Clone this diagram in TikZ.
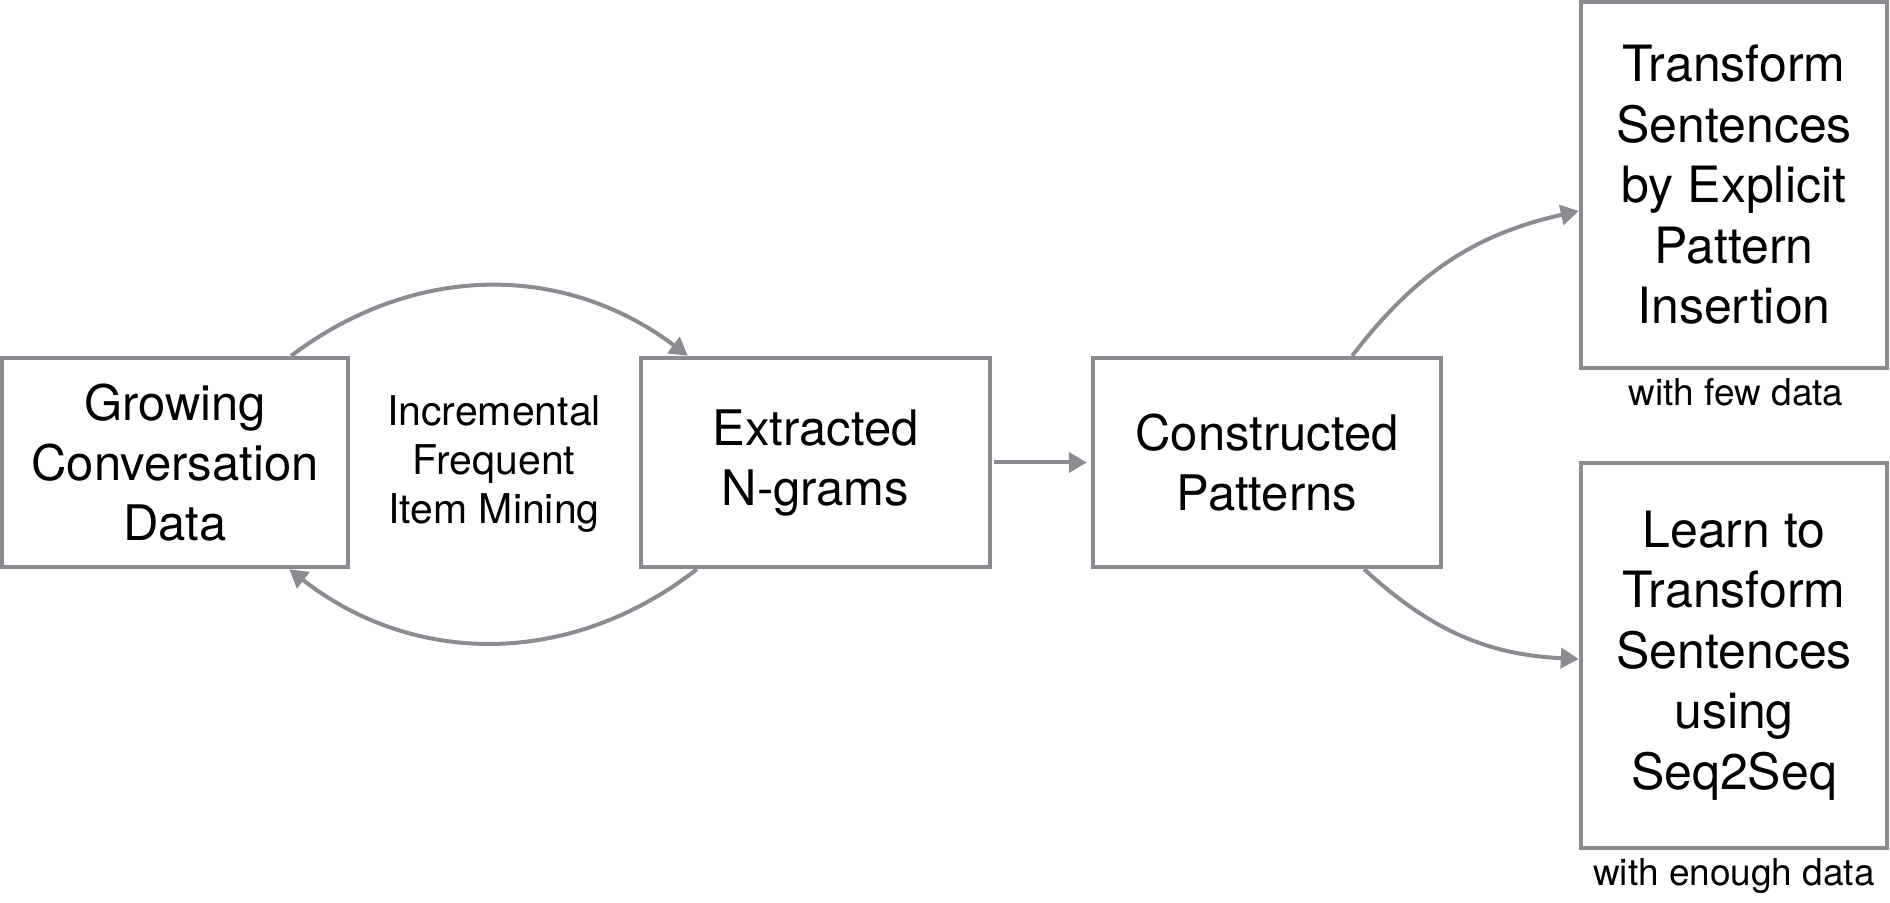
\documentclass[tikz,border=0pt]{standalone}
\usepackage{fontspec}
\setmainfont{TeX Gyre Heros}
\usetikzlibrary{arrows.meta}
\definecolor{lineg}{RGB}{138,140,146}
\begin{document}
\begin{tikzpicture}[x=0.5pt,y=-0.5pt,
  box/.style={draw=lineg, line width=2.2pt, inner sep=0pt, align=center, fill=white},
  bigtxt/.style={font=\fontsize{24.5}{30}\selectfont},
  rtxt/.style={font=\fontsize{25}{30.25}\selectfont},
  midtxt/.style={font=\fontsize{20.5}{24.5}\selectfont, align=center},
  smalltxt/.style={font=\fontsize{18.5}{22}\selectfont, anchor=base},
  conn/.style={draw=lineg, line width=2pt, -{Triangle[length=9pt,width=10pt]}},
]
\useasboundingbox (0,0) rectangle (1890,903);
\node[box, bigtxt, minimum width=173pt, minimum height=104.5pt] (b1) at (175,462.5) {Growing\\Conversation\\Data};
\node[box, bigtxt, minimum width=174.5pt, minimum height=104.5pt] (b2) at (815.5,462.5) {Extracted\\N-grams};
\node[box, bigtxt, minimum width=174pt, minimum height=104.5pt] (b3) at (1267,462.5) {Constructed\\Patterns};
\node[box, rtxt, minimum width=153pt, minimum height=183pt] (b4) at (1734,185) {Transform\\Sentences\\by Explicit\\Pattern\\Insertion};
\node[box, rtxt, minimum width=153pt, minimum height=192.5pt] (b5) at (1734,655.5) {Learn to\\Transform\\Sentences\\using\\Seq2Seq};
\node[midtxt] (lab) at (494,464) {Incremental\\Frequent\\Item Mining};
\node[smalltxt] (l4) at (1736,406) {with few data};
\node[smalltxt] (l5) at (1734,885) {with enough data};
\draw[conn] ([xshift=-29.5pt]b1.north east) to[bend left=37] ([xshift=24.5pt]b2.north west);
\draw[conn] ([xshift=29pt]b2.south west) to[bend left=38] ([xshift=-30.5pt]b1.south east);
\draw[conn, shorten <=1pt, shorten >=2pt] (b2.east) -- (b3.west);
\draw[conn] ([xshift=-45.5pt]b3.north east) to[bend left=20] ([yshift=-13pt]b4.west);
\draw[conn] ([xshift=-39.5pt]b3.south east) to[bend right=20] ([yshift=-1.75pt]b5.west);
\end{tikzpicture}
\end{document}
